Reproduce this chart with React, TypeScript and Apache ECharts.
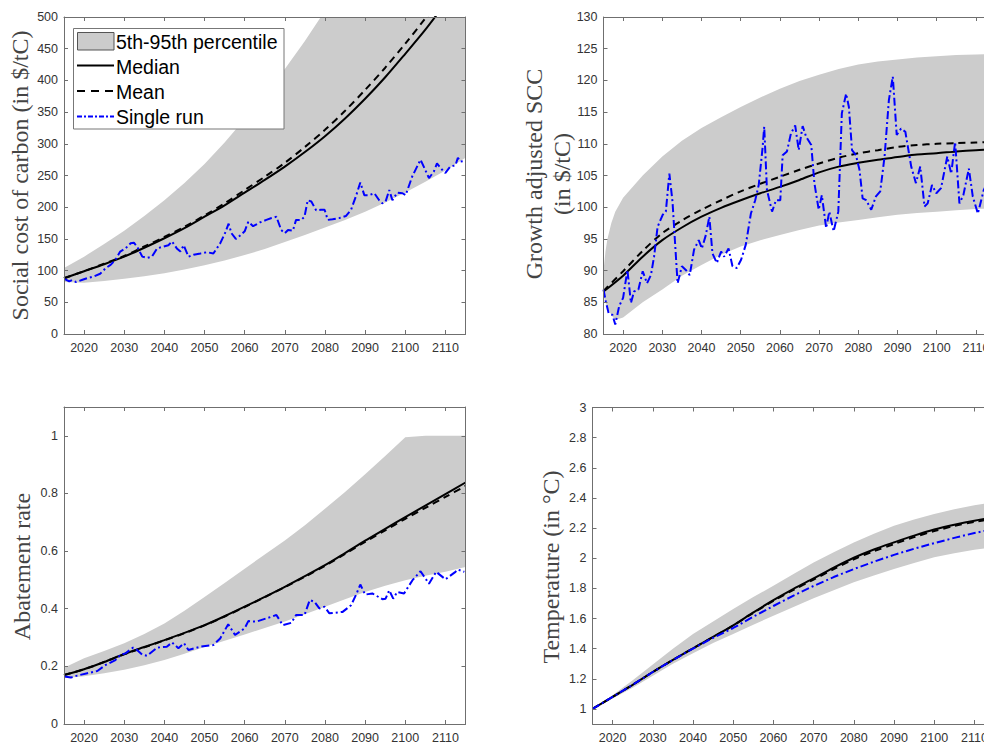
import React, { useEffect, useRef } from "react";
import * as echarts from "echarts";

// ---------- shared ----------
const xTicks = [2020, 2030, 2040, 2050, 2060, 2070, 2080, 2090, 2100, 2110];
const bandYears = [2015, 2020, 2025, 2030, 2035, 2040, 2045, 2050, 2055, 2060, 2065, 2070, 2075, 2080, 2085, 2090, 2095, 2100, 2105, 2110, 2115];

// ---------- panel 1: social cost of carbon ----------
const sccTicks = [0, 50, 100, 150, 200, 250, 300, 350, 400, 450, 500];
const sccUpper = [104, 122, 142, 163, 186, 211, 238, 268, 302, 339, 378, 418, 462, 510, 565, 625, 690, 760, 840, 930, 1030];
const sccLower = [82, 81, 83.5, 87, 91.2, 96, 101.8, 108.5, 116, 124.5, 134, 145, 156, 168, 180, 193, 207.5, 223, 240, 258, 278];
const sccMedian = [88, 99, 110, 122, 136, 151, 167, 185, 203, 223, 243, 264, 287, 312, 340, 371, 405, 442, 480, 522, 565];
const sccMean = [88, 99, 111, 123, 138, 153, 169, 187, 206, 227, 248, 270, 295, 322, 352, 385, 420, 458, 498, 540, 585];
const sccRunYears = [2015.2, 2016.3, 2017, 2018, 2019.6, 2020.8, 2022.5, 2024, 2025.4, 2026.6, 2027.8, 2029, 2030.3, 2031.6, 2032.4, 2033.2, 2034.5, 2035.7, 2036.9, 2038.2, 2039.8, 2041, 2041.9, 2043.1, 2044, 2044.8, 2046, 2047.3, 2049, 2050.6, 2052.2, 2053.9, 2055.1, 2056, 2056.7, 2057.8, 2058.8, 2060, 2060.9, 2062.1, 2063.8, 2065.4, 2066.7, 2067.9, 2069.1, 2070, 2070.8, 2072, 2072.8, 2074.1, 2074.9, 2075.7, 2076.6, 2077.8, 2079, 2079.9, 2080.7, 2081.9, 2083.6, 2085.2, 2086.5, 2087.7, 2088.8, 2089.8, 2091, 2092.3, 2093.5, 2094.3, 2095.1, 2096, 2096.8, 2098, 2099.3, 2100.1, 2101.7, 2103.8, 2104.6, 2105.9, 2107.1, 2107.9, 2109.2, 2110, 2111.2, 2112.5, 2113.1, 2113.7, 2114.7];
const sccRun = [86.6, 83, 85, 82, 85.5, 88, 91, 95, 104, 109, 117, 130, 135, 143, 144, 138, 122, 120, 122, 135, 138, 140, 146, 135, 130, 140, 122, 125, 127, 129, 127, 143, 159, 174, 159, 150, 155, 162, 177, 170, 176, 180, 183, 185, 164, 159, 164, 163, 180, 180, 185, 211, 209, 195, 196, 196, 180, 181, 183, 186, 196, 217, 239, 219, 219, 222, 211, 206, 209, 227, 211, 223, 222, 219, 248, 275, 264, 246, 256, 269, 259, 254, 264, 266, 278, 272, 273];

// ---------- panel 2: growth adjusted SCC ----------
const gTicks = [80, 85, 90, 95, 100, 105, 110, 115, 120, 125, 130];
const gBandYears = [2015, 2015.5, 2016, 2017, 2018, 2020, 2025, 2030, 2035, 2040, 2045, 2050, 2055, 2060, 2065, 2070, 2075, 2080, 2085, 2090, 2095, 2100, 2105, 2110, 2115];
const gUpper = [90, 93, 95, 97.5, 99.3, 101.5, 105, 108, 110.5, 112.5, 114.2, 115.8, 117.3, 118.7, 119.9, 120.9, 121.8, 122.5, 123, 123.3, 123.6, 123.8, 124, 124.1, 124.2];
const gLower = [86, 85, 84.2, 83, 82.2, 82.6, 85, 87, 89.2, 90.9, 92.5, 93.8, 94.8, 95.6, 96.4, 97.1, 97.6, 98, 98.4, 98.8, 99.1, 99.3, 99.5, 99.7, 99.8];
const gMedian = [86.7, 89.2, 92.2, 94.8, 96.8, 98.5, 99.9, 101.1, 102.2, 103.2, 104.3, 105.5, 106.4, 107.0, 107.5, 107.9, 108.3, 108.5, 108.8, 109.0, 109.1];
const gMean = [86.8, 89.9, 93.1, 95.9, 97.9, 99.6, 101.1, 102.5, 103.7, 104.8, 105.9, 106.9, 107.8, 108.5, 109.0, 109.5, 109.8, 110.0, 110.1, 110.2, 110.3];
const gRunYears = [2015, 2015.6, 2016.3, 2017.3, 2018, 2019, 2020, 2021.1, 2022, 2022.8, 2023.9, 2025, 2026.1, 2027.1, 2027.9, 2028.8, 2030.1, 2030.9, 2031.8, 2032.6, 2033.9, 2035, 2036, 2037, 2038.1, 2039.3, 2040.1, 2041.1, 2042, 2042.8, 2043.9, 2045, 2045.8, 2046.9, 2047.9, 2049, 2050.1, 2051.3, 2052.6, 2053.7, 2054.6, 2055.6, 2056, 2056.7, 2058, 2059, 2060.1, 2060.7, 2061.8, 2062.8, 2063.9, 2064.8, 2065.8, 2066.7, 2068, 2068.8, 2069.9, 2070.7, 2071.8, 2072.6, 2073.7, 2074.9, 2075.8, 2076.9, 2077.6, 2078.4, 2079.4, 2080.3, 2081.1, 2082, 2083.3, 2084.5, 2085.6, 2086.7, 2087.8, 2088.8, 2089.8, 2090.9, 2092, 2093.5, 2094.7, 2095.8, 2096.9, 2097.7, 2098.8, 2099.9, 2101.1, 2102.7, 2103.7, 2104.7, 2105.8, 2106.8, 2108.2, 2109.2, 2110.5, 2112, 2113, 2115];
const gRun = [87.0, 85.1, 83.3, 83.0, 81.5, 84.4, 85.7, 90.1, 84.9, 86.7, 87.0, 89.9, 88.0, 89.3, 92.2, 96.9, 98.8, 99.3, 105.3, 100.9, 88.0, 90.7, 90.1, 89.3, 93.3, 94.8, 93.5, 95.6, 98.5, 92.7, 91.2, 93.0, 92.2, 93.5, 90.7, 90.4, 91.7, 94.1, 99.0, 101.1, 103.5, 109.5, 112.7, 102.7, 99.3, 101.1, 101.1, 108.2, 108.8, 111.6, 112.9, 109.0, 112.8, 111.1, 109.8, 103.8, 99.6, 101.9, 96.7, 99.3, 96.2, 99.3, 114.8, 117.9, 115.8, 109.0, 108.2, 105.9, 101.4, 101.1, 99.6, 101.7, 102.5, 108.0, 116.9, 120.6, 111.4, 112.4, 111.9, 106.4, 103.8, 106.4, 100.1, 100.6, 103.5, 102.2, 103.0, 108.0, 105.3, 110.3, 100.6, 101.9, 106.1, 101.7, 99.0, 102.7, 104, 105];

// ---------- panel 3: abatement rate ----------
const aTicks = [0, 0.2, 0.4, 0.6, 0.8, 1];
const aUpper = [0.195, 0.228, 0.253, 0.28, 0.312, 0.349, 0.393, 0.441, 0.489, 0.539, 0.588, 0.637, 0.69, 0.747, 0.805, 0.867, 0.93, 0.995, 1.0, 1.0, 1.0];
const aLower = [0.159, 0.166, 0.176, 0.188, 0.204, 0.222, 0.244, 0.267, 0.289, 0.311, 0.333, 0.356, 0.381, 0.407, 0.433, 0.458, 0.48, 0.499, 0.514, 0.528, 0.545];
const aMedian = [0.17, 0.19, 0.215, 0.243, 0.267, 0.291, 0.316, 0.343, 0.374, 0.407, 0.441, 0.476, 0.513, 0.551, 0.593, 0.636, 0.677, 0.718, 0.758, 0.798, 0.838];
const aMean = [0.17, 0.19, 0.215, 0.242, 0.266, 0.29, 0.315, 0.342, 0.373, 0.406, 0.44, 0.475, 0.511, 0.549, 0.59, 0.632, 0.672, 0.712, 0.75, 0.788, 0.826];
const aRunYears = [2015.2, 2016.7, 2018.3, 2020.8, 2023.3, 2025.4, 2027.8, 2029.1, 2030.3, 2032.2, 2033.2, 2034.5, 2035.7, 2038.2, 2040.6, 2041.9, 2043.5, 2044.9, 2046, 2048.9, 2052.2, 2053.9, 2055.9, 2057.6, 2060, 2060.9, 2062.9, 2067.9, 2069.5, 2071.6, 2072.8, 2074.9, 2076.2, 2077.4, 2078.6, 2079.9, 2081.1, 2084.4, 2086.5, 2087.7, 2088.8, 2090, 2091.8, 2094.3, 2095.1, 2096, 2097, 2098, 2099.7, 2101.8, 2103.8, 2105.9, 2107.7, 2110, 2112.5, 2113.1, 2114.7];
const aRun = [0.165, 0.161, 0.168, 0.176, 0.184, 0.205, 0.222, 0.24, 0.245, 0.265, 0.257, 0.24, 0.237, 0.265, 0.268, 0.283, 0.263, 0.28, 0.257, 0.268, 0.274, 0.297, 0.346, 0.309, 0.332, 0.357, 0.355, 0.378, 0.343, 0.351, 0.378, 0.378, 0.43, 0.424, 0.401, 0.407, 0.384, 0.389, 0.412, 0.447, 0.484, 0.449, 0.453, 0.433, 0.435, 0.464, 0.435, 0.458, 0.453, 0.499, 0.53, 0.487, 0.528, 0.502, 0.528, 0.536, 0.528];

// ---------- panel 4: temperature ----------
const tTicks = [1, 1.2, 1.4, 1.6, 1.8, 2, 2.2, 2.4, 2.6, 2.8, 3];
const tUpper = [1.0, 1.09, 1.19, 1.295, 1.4, 1.497, 1.58, 1.663, 1.742, 1.818, 1.895, 1.972, 2.04, 2.105, 2.163, 2.215, 2.257, 2.293, 2.325, 2.352, 2.372];
const tLower = [1.0, 1.07, 1.14, 1.22, 1.3, 1.37, 1.437, 1.497, 1.558, 1.619, 1.677, 1.734, 1.788, 1.84, 1.886, 1.928, 1.968, 2.006, 2.033, 2.056, 2.075];
const tMedian = [1.0, 1.08, 1.16, 1.245, 1.325, 1.402, 1.478, 1.555, 1.64, 1.722, 1.797, 1.866, 1.937, 2.003, 2.058, 2.105, 2.15, 2.19, 2.222, 2.249, 2.27];
const tMean = [1.0, 1.08, 1.16, 1.245, 1.325, 1.402, 1.477, 1.553, 1.637, 1.717, 1.79, 1.858, 1.927, 1.993, 2.047, 2.094, 2.14, 2.18, 2.214, 2.241, 2.262];
const tRun = [1.0, 1.08, 1.16, 1.245, 1.325, 1.4, 1.472, 1.537, 1.612, 1.683, 1.752, 1.816, 1.875, 1.928, 1.977, 2.022, 2.063, 2.1, 2.135, 2.167, 2.195];

const zip = (xs: number[], ys: number[]) => xs.slice(0, Math.min(xs.length, ys.length)).map((x, i) => [x, ys[i]]);

const AXIS_COLOR = "#6f6f6f";
const LABEL_COLOR = "#333";
const SANS = "'Liberation Sans', Arial, Helvetica, sans-serif";
const SERIF = "'Liberation Serif', 'Times New Roman', serif";
const BAND_COLOR = "#cccccc";

const grids = [
  { left: 64, top: 17, width: 401.5, height: 317 },
  { left: 603.5, top: 17, width: 392, height: 317 },
  { left: 64, top: 407, width: 401.5, height: 319 },
  { left: 592.5, top: 407.5, width: 402, height: 318.5 },
];

const yRanges = [
  { min: 0, max: 500, ticks: sccTicks },
  { min: 80, max: 130, ticks: gTicks },
  { min: 0, max: 1.1, ticks: aTicks },
  { min: 0.9, max: 3, ticks: tTicks },
];

function fmt(v: number) {
  return String(Math.round(v * 100) / 100);
}

function bandSeries(gi: number, years: number[], lower: number[], upper: number[]) {
  const data = years.map((y, i) => [y, lower[i], upper[i]]);
  return {
    type: "custom",
    name: "5th-95th percentile",
    xAxisIndex: gi * 2,
    yAxisIndex: gi * 2,
    silent: true,
    clip: true,
    z: 1,
    encode: { x: 0, y: [1, 2] },
    data,
    renderItem: (params: any, api: any) => {
      if (params.dataIndex !== 0) return null;
      const top = data.map((d) => api.coord([d[0], d[2]]));
      const bottom = data.map((d) => api.coord([d[0], d[1]])).reverse();
      const cs = params.coordSys;
      return {
        type: "polygon",
        shape: { points: top.concat(bottom) },
        style: { fill: BAND_COLOR, stroke: "none" },
        clipPath: { type: "rect", shape: { x: cs.x, y: cs.y, width: cs.width, height: cs.height } },
      };
    },
  };
}

function buildOption() {
  const xAxis: any[] = [];
  const yAxis: any[] = [];
  grids.forEach((_, gi) => {
    const lineStyle = { color: AXIS_COLOR, width: 1 };
    xAxis.push({
      type: "value", gridIndex: gi, min: 2015, max: 2115, position: "bottom", z: 10,
      axisLine: { show: true, onZero: false, lineStyle },
      axisTick: { show: true, inside: true, length: 4, customValues: xTicks, lineStyle },
      axisLabel: { show: true, customValues: xTicks, margin: 7, color: LABEL_COLOR, fontSize: 12.5, fontFamily: SANS, formatter: (v: number) => String(v) },
      splitLine: { show: false },
    });
    xAxis.push({
      type: "value", gridIndex: gi, min: 2015, max: 2115, position: "top", z: 10,
      axisLine: { show: true, onZero: false, lineStyle },
      axisTick: { show: true, inside: true, length: 4, customValues: xTicks, lineStyle },
      axisLabel: { show: false },
      splitLine: { show: false },
    });
    const yr = yRanges[gi];
    yAxis.push({
      type: "value", gridIndex: gi, min: yr.min, max: yr.max, position: "left", z: 10,
      axisLine: { show: true, onZero: false, lineStyle },
      axisTick: { show: true, inside: true, length: 4, customValues: yr.ticks, lineStyle },
      axisLabel: { show: true, customValues: yr.ticks, margin: 6, color: LABEL_COLOR, fontSize: 12.5, fontFamily: SANS, formatter: (v: number) => fmt(v) },
      splitLine: { show: false },
    });
    yAxis.push({
      type: "value", gridIndex: gi, min: yr.min, max: yr.max, position: "right", z: 10,
      axisLine: { show: true, onZero: false, lineStyle },
      axisTick: { show: true, inside: true, length: 4, customValues: yr.ticks, lineStyle },
      axisLabel: { show: false },
      splitLine: { show: false },
    });
  });

  const series: any[] = [];
  const addPanel = (gi: number, by: number[], lower: number[], upper: number[], median: number[][], mean: number[][], run: number[][]) => {
    const common = { type: "line", xAxisIndex: gi * 2, yAxisIndex: gi * 2, symbol: "none", silent: true, clip: true, z: 3 };
    series.push(bandSeries(gi, by, lower, upper));
    series.push({ ...common, name: "Median", data: median, smooth: 0.3, lineStyle: { color: "#000", width: 2, type: "solid" } });
    series.push({ ...common, name: "Mean", data: mean, smooth: 0.3, lineStyle: { color: "#000", width: 2, type: [7, 5] } });
    series.push({ ...common, name: "Single run", data: run, lineStyle: { color: "#0000ff", width: 2, type: [8, 3, 2, 3] } });
  };
  addPanel(0, bandYears, sccLower, sccUpper, zip(bandYears, sccMedian), zip(bandYears, sccMean), zip(sccRunYears, sccRun));
  addPanel(1, gBandYears, gLower, gUpper, zip(bandYears, gMedian), zip(bandYears, gMean), zip(gRunYears, gRun));
  addPanel(2, bandYears, aLower, aUpper, zip(bandYears, aMedian), zip(bandYears, aMean), zip(aRunYears, aRun));
  addPanel(3, bandYears, tLower, tUpper, zip(bandYears, tMedian), zip(bandYears, tMean), zip(bandYears, tRun));

  const titleStyle = { fontFamily: SERIF, fontSize: 24, fill: "#444", align: "center", verticalAlign: "middle" };
  const legendText = { fontFamily: SANS, fontSize: 19.5, fill: "#000", align: "left", verticalAlign: "middle" };

  const graphic: any[] = [
    { type: "text", x: 20, y: 175.5, rotation: Math.PI / 2, z: 50, style: { ...titleStyle, text: "Social cost of carbon (in $/tC)" } },
    { type: "text", x: 547.5, y: 174, rotation: Math.PI / 2, z: 50, style: { ...titleStyle, text: "Growth adjusted SCC\n(in $/tC)", lineHeight: 28 } },
    { type: "text", x: 22, y: 566.5, rotation: Math.PI / 2, z: 50, style: { ...titleStyle, text: "Abatement rate" } },
    { type: "text", x: 551, y: 567, rotation: Math.PI / 2, z: 50, style: { ...titleStyle, text: "Temperature (in °C)" } },
    // legend
    { type: "rect", z: 100, shape: { x: 73.5, y: 28.5, width: 210.5, height: 100.5 }, style: { fill: "#fff", stroke: "#777", lineWidth: 1 } },
    { type: "rect", z: 101, shape: { x: 77.5, y: 32.5, width: 36.5, height: 17.5 }, style: { fill: BAND_COLOR, stroke: "#555", lineWidth: 1 } },
    { type: "text", z: 101, x: 116, y: 42, style: { ...legendText, text: "5th-95th percentile" } },
    { type: "line", z: 101, shape: { x1: 77, y1: 65.5, x2: 114, y2: 65.5 }, style: { stroke: "#000", lineWidth: 2 } },
    { type: "text", z: 101, x: 116, y: 66.5, style: { ...legendText, text: "Median" } },
    { type: "line", z: 101, shape: { x1: 77, y1: 91, x2: 114, y2: 91 }, style: { stroke: "#000", lineWidth: 2, lineDash: [8, 6] } },
    { type: "text", z: 101, x: 116, y: 91.5, style: { ...legendText, text: "Mean" } },
    { type: "line", z: 101, shape: { x1: 77, y1: 116.5, x2: 114, y2: 116.5 }, style: { stroke: "#0000ff", lineWidth: 2, lineDash: [5, 2, 2, 2] } },
    { type: "text", z: 101, x: 116, y: 116.5, style: { ...legendText, text: "Single run" } },
  ];

  return {
    animation: false,
    backgroundColor: "#ffffff",
    grid: grids.map((g) => ({ ...g, containLabel: false })),
    xAxis,
    yAxis,
    series,
    graphic,
  };
}

export default function App() {
  const ref = useRef<HTMLDivElement>(null);
  useEffect(() => {
    if (!ref.current) return;
    const chart = echarts.init(ref.current, undefined, { renderer: "svg" });
    chart.setOption(buildOption() as any);
    return () => chart.dispose();
  }, []);
  return (
    <div style={{ position: "fixed", left: 0, top: 0, width: 984, height: 744, overflow: "hidden", background: "#fff" }}>
      <div ref={ref} style={{ width: 1000, height: 744 }} />
    </div>
  );
}
